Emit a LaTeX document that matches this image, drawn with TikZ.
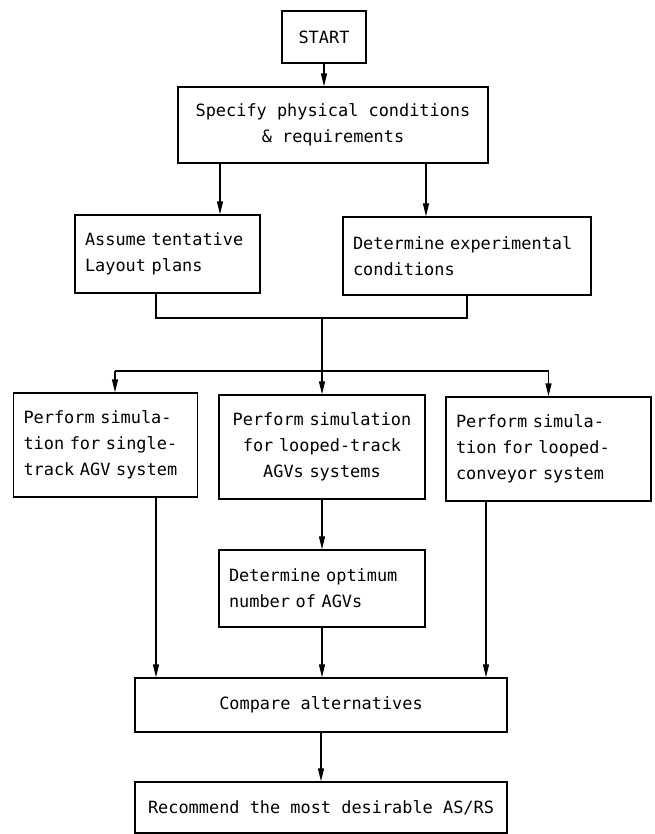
\documentclass[tikz,border=0pt]{standalone}
\usepackage{fontspec}
\setmonofont{DejaVu Sans Mono}
\usetikzlibrary{positioning}
\usetikzlibrary{arrows.meta}

\begin{document}
\begin{tikzpicture}[x=1pt,y=-1pt]
  \tikzset{Process/.style={rectangle, draw, line width=1.3pt, inner xsep=10pt, inner ysep=0pt, font=\fontsize{16.9}{26}\selectfont\ttfamily}};
  \tikzset{Start/.style={Process, line width=2pt, minimum width=84pt, minimum height=52pt}};
  \tikzset{Flow/.style={line width=1.3pt, -{Triangle[length=13pt,width=6pt]}}};
  \tikzset{Line/.style={line width=1.3pt}};
  \useasboundingbox (0,0) rectangle (654,834);
  \node[Start] (start) at (324,37) {START};
  \node[Process, align=center, minimum width=310pt, minimum height=76pt] (spec) at (333,125) {Specify physical conditions\\\& requirements};
  \node[Process, align=left, text width=165pt, minimum height=78pt] (assume) at (167.5,254) {Assume tentative\\Layout plans};
  \node[Process, align=left, text width=228pt, minimum height=78pt] (determine) at (467,256) {Determine experimental\\conditions};
  \node[Process, align=left, text width=164pt, minimum height=104pt] (simA) at (105.5,445) {Perform simula-\\tion for single-\\track AGV system};
  \node[Process, align=center, text width=186pt, minimum height=104pt] (simB) at (322,447) {Perform simulation\\for looped-track\\AGVs systems};
  \node[Process, align=left, text width=185pt, minimum height=104pt] (simC) at (548.5,449) {Perform simula-\\tion for looped-\\conveyor system};
  \node[Process, align=left, text width=186pt, minimum height=77pt] (optimum) at (322,588.5) {Determine optimum\\number of AGVs};
  \node[Process, align=center, minimum width=372pt, minimum height=54pt] (compare) at (321,705) {Compare alternatives};
  \node[Process, align=center, minimum width=372pt, minimum height=51pt] (recommend) at (321,807.5) {Recommend the most desirable AS/RS};
  \coordinate (merge) at (322,318);
  \coordinate (split) at (322,371);
  \coordinate (colA) at (115,371);
  \draw[Flow] (start.south) -- (start.south |- spec.north);
  \draw[Flow] ([xshift=-113]spec.south) -- ([xshift=-113]spec.south |- assume.north);
  \draw[Flow] ([xshift=93]spec.south) -- ([xshift=93]spec.south |- determine.north);
  \draw[Line] ([xshift=-11.5]assume.south) |- (merge) -| (determine.south);
  \draw[Flow] (merge) -- (simB.north);
  \draw[Line] (colA) -- (split -| simC.north);
  \draw[Flow] (colA) -- (colA |- simA.north);
  \draw[Flow] (split -| simC.north) -- (simC.north);
  \draw[Flow] (simB.south) -- (optimum.north);
  \draw[Flow] ([xshift=50.5]simA.south) -- ([xshift=50.5]simA.south |- compare.north);
  \draw[Flow] ([xshift=-62.5]simC.south) -- ([xshift=-62.5]simC.south |- compare.north);
  \draw[Flow] (optimum.south) -- (optimum.south |- compare.north);
  \draw[Flow] (compare.south) -- (recommend.north);
\end{tikzpicture}
\end{document}
